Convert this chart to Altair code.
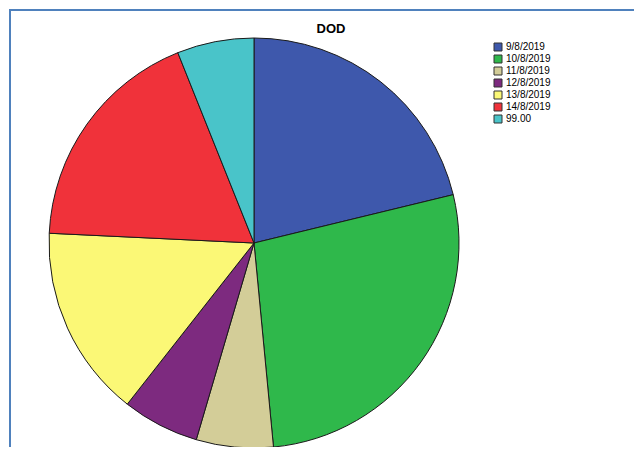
import altair as alt
import pandas as pd

categories = ["9/8/2019", "10/8/2019", "11/8/2019", "12/8/2019", "13/8/2019", "14/8/2019", "99.00"]
counts = [7, 9, 2, 2, 5, 6, 2]
colors = ["#3e58ac", "#2fb84b", "#d3cd98", "#7d2a7f", "#fbf876", "#f0323a", "#49c4c9"]

df = pd.DataFrame({"DOD": categories, "count": counts, "order": list(range(len(categories)))})

W, H = 626, 439

pie = alt.Chart(df).mark_arc(stroke="#1a1a1a", strokeWidth=1, radius=205).encode(
    theta=alt.Theta("count:Q", stack=True),
    order=alt.Order("order:Q"),
    color=alt.Color(
        "DOD:N",
        sort=categories,
        scale=alt.Scale(domain=categories, range=colors),
        legend=alt.Legend(
            title=None,
            orient="none",
            legendX=485,
            legendY=33,
            symbolType="square",
            symbolSize=64,
            symbolStrokeColor="#333333",
            symbolStrokeWidth=1,
            labelFont="Liberation Sans",
            labelFontSize=10,
            labelColor="#000000",
            rowPadding=0,
            labelOffset=3,
        ),
    ),
    x=alt.value(246),
    y=alt.value(234),
)

title = alt.Chart(pd.DataFrame({"t": ["DOD"]})).mark_text(
    font="Liberation Sans", fontSize=13, fontWeight="bold", color="#000000", baseline="middle", align="center"
).encode(text="t:N", x=alt.value(323), y=alt.value(20))

border_left = alt.Chart(pd.DataFrame({"a": [0]})).mark_rule(color="#4f81bd", strokeWidth=2).encode(
    x=alt.value(2), y=alt.value(0), y2=alt.value(H)
)
border_top = alt.Chart(pd.DataFrame({"a": [0]})).mark_rule(color="#4f81bd", strokeWidth=2).encode(
    x=alt.value(1), x2=alt.value(W), y=alt.value(1)
)

chart = alt.layer(pie, title, border_left, border_top).properties(
    width=W,
    height=H,
    padding=0,
    autosize=alt.AutoSizeParams(type="fit", contains="padding"),
).configure_view(stroke=None)

chart.save("out.html", embed_options={"renderer": "svg", "actions": False})
